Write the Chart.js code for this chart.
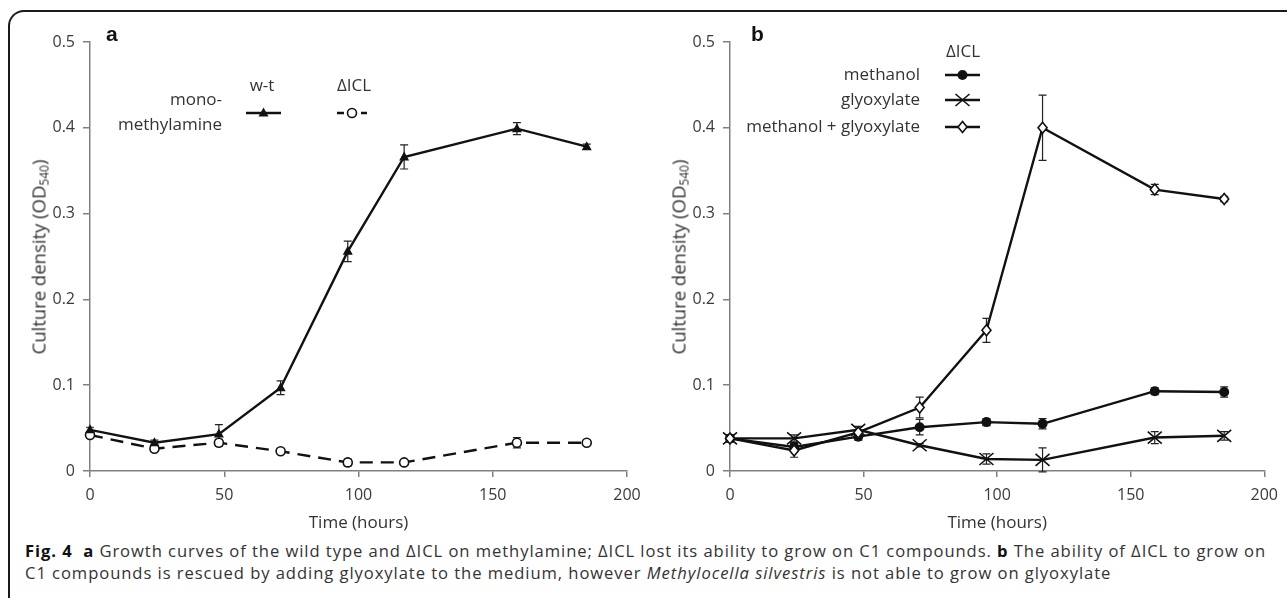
<!DOCTYPE html>
<html>
<head>
<meta charset="utf-8">
<script src="https://cdn.jsdelivr.net/npm/chart.js@4.4.1/dist/chart.umd.min.js"></script>
<style>
    body { margin: 0; background: #fff; width: 1287px; height: 598px; overflow: hidden; position: relative; font-family: "Open Sans", sans-serif; }
    .frame { position: absolute; left: 8px; top: 10px; width: 1400px; height: 600px; border-top: 2px solid #1a1a1a; border-left: 2px solid #1a1a1a; border-top-left-radius: 16px; border-bottom-left-radius: 14px; }
    .panel { position: absolute; top: 0; height: 535px; }
    .letter { position: absolute; top: 22px; font-family: "Liberation Sans", Arial, sans-serif; font-weight: bold; font-size: 21px; color: #111; }
    .ytitle { position: absolute; top: 257px; font-size: 18.5px; color: #333; white-space: nowrap; transform: translate(-50%, -50%) rotate(-90deg); }
    .ytitle sub { font-size: 12px; vertical-align: -3px; }
    .caption { position: absolute; left: 25px; top: 540px; font-family: "Open Sans", sans-serif; font-size: 16.6px; color: #333; line-height: 21.5px; white-space: nowrap; }
    .caption b { color: #111; }
</style>
</head>
<body>
<div class="frame"></div>
<div class="panel" style="left:0; width:660px;"><canvas id="chartA" width="660" height="535"></canvas></div>
<div class="panel" style="left:640px; width:647px;"><canvas id="chartB" width="647" height="535"></canvas></div>
<div class="letter" style="left:106px;">a</div>
<div class="letter" style="left:751px;">b</div>
<div class="ytitle" style="left:39px;">Culture density (OD<sub>540</sub>)</div>
<div class="ytitle" style="left:679px;">Culture density (OD<sub>540</sub>)</div>
<div class="caption" id="caption">
    <span id="capLine1"><b>Fig. 4</b>&nbsp; <b>a</b> Growth curves of the wild type and ΔICL on methylamine; ΔICL lost its ability to grow on C1 compounds. <b>b</b> The ability of ΔICL to grow on</span><br>
    <span>C1 compounds is rescued by adding glyoxylate to the medium, however <i>Methylocella silvestris</i> is not able to grow on glyoxylate</span>
</div>
<script>
// sampling times (hours)
const times = [0, 24, 48, 71, 96, 117, 159, 185];

// panel a: monomethylamine
const wtMono = [0.048, 0.033, 0.043, 0.097, 0.256, 0.366, 0.399, 0.378];
const wtMonoErr = [0.003, 0.003, 0.011, 0.008, 0.012, 0.014, 0.007, 0.003];
const iclMono = [0.042, 0.026, 0.033, 0.023, 0.010, 0.010, 0.033, 0.033];
const iclMonoErr = [0.003, 0.003, 0.004, 0.003, 0.004, 0.002, 0.006, 0.002];

// panel b: ΔICL on different substrates
const methanol = [0.038, 0.028, 0.040, 0.051, 0.057, 0.055, 0.093, 0.092];
const methanolErr = [0.004, 0.005, 0.004, 0.009, 0.004, 0.006, 0.004, 0.006];
const glyoxylate = [0.038, 0.038, 0.048, 0.030, 0.014, 0.013, 0.039, 0.041];
const glyoxylateErr = [0.004, 0.004, 0.004, 0.002, 0.006, 0.014, 0.007, 0.005];
const methGly = [0.038, 0.024, 0.045, 0.074, 0.164, 0.400, 0.328, 0.317];
const methGlyErr = [0.003, 0.008, 0.003, 0.012, 0.014, 0.038, 0.006, 0.003];

// axis ticks
const xTicks = [0, 50, 100, 150, 200];
const yTicks = [0, 0.1, 0.2, 0.3, 0.4, 0.5];

const axisColor = '#808080';
const tickTextColor = '#3a3a3a';

// stretch the caption a little so the first line spans the frame like the original
const capLine = document.getElementById('capLine1');
const capTarget = 1241;
const capChars = capLine.textContent.length;
document.getElementById('caption').style.letterSpacing = ((capTarget - capLine.getBoundingClientRect().width) / capChars).toFixed(3) + 'px';

function toPoints(ys) {
    return times.map((t, i) => ({ x: t, y: ys[i] }));
}

/**
 * Draw a marker at (x, y)
 */
function drawMarker(ctx, style, x, y) {
    ctx.save();
    ctx.strokeStyle = '#111';
    ctx.fillStyle = '#111';
    ctx.lineWidth = 1.6;
    ctx.beginPath();
    if (style === 'triangle') {
        ctx.moveTo(x, y - 5.5);
        ctx.lineTo(x + 5, y + 3.5);
        ctx.lineTo(x - 5, y + 3.5);
        ctx.closePath();
        ctx.fill();
    } else if (style === 'openCircle') {
        ctx.fillStyle = '#fff';
        ctx.arc(x, y, 4.5, 0, Math.PI * 2);
        ctx.fill();
        ctx.stroke();
    } else if (style === 'circle') {
        ctx.arc(x, y, 5, 0, Math.PI * 2);
        ctx.fill();
    } else if (style === 'cross') {
        ctx.moveTo(x - 7, y - 6);
        ctx.lineTo(x + 7, y + 6);
        ctx.moveTo(x + 7, y - 6);
        ctx.lineTo(x - 7, y + 6);
        ctx.stroke();
    } else if (style === 'diamond') {
        ctx.fillStyle = '#fff';
        ctx.moveTo(x, y - 5.5);
        ctx.lineTo(x + 4.5, y);
        ctx.lineTo(x, y + 5.5);
        ctx.lineTo(x - 4.5, y);
        ctx.closePath();
        ctx.fill();
        ctx.stroke();
    }
    ctx.restore();
}

// error bars drawn from each dataset's err array
const errorBarPlugin = {
    id: 'errorBars',
    afterDatasetsDraw(chart) {
        const ctx = chart.ctx;
        const xs = chart.scales.x;
        const ys = chart.scales.y;
        ctx.save();
        ctx.strokeStyle = '#222';
        ctx.lineWidth = 1.2;
        chart.data.datasets.forEach(ds => {
            ds.data.forEach((p, i) => {
                const e = ds.err[i];
                const px = xs.getPixelForValue(p.x);
                const top = ys.getPixelForValue(p.y + e);
                const bot = ys.getPixelForValue(p.y - e);
                ctx.beginPath();
                ctx.moveTo(px, top);
                ctx.lineTo(px, bot);
                ctx.moveTo(px - 4, top);
                ctx.lineTo(px + 4, top);
                ctx.moveTo(px - 4, bot);
                ctx.lineTo(px + 4, bot);
                ctx.stroke();
            });
        });
        ctx.restore();
    }
};

// markers drawn by hand so shapes match the original
const markerPlugin = {
    id: 'markers',
    afterDatasetsDraw(chart) {
        const xs = chart.scales.x;
        const ys = chart.scales.y;
        chart.data.datasets.forEach(ds => {
            ds.data.forEach(p => {
                drawMarker(chart.ctx, ds.marker, xs.getPixelForValue(p.x), ys.getPixelForValue(p.y));
            });
        });
    }
};

// legend drawn inside the chart canvas
const legendPlugin = {
    id: 'customLegend',
    afterDraw(chart) {
        const cfg = chart.options.plugins.customLegend;
        if (!cfg) return;
        const ctx = chart.ctx;
        ctx.save();
        ctx.font = '17px "Open Sans", sans-serif';
        ctx.fillStyle = '#333';
        ctx.textBaseline = 'middle';
        cfg.texts.forEach(t => {
            ctx.textAlign = t.align;
            ctx.fillText(t.text, t.x, t.y);
        });
        cfg.samples.forEach(s => {
            ctx.save();
            ctx.strokeStyle = '#111';
            ctx.lineWidth = 2.6;
            ctx.setLineDash(s.dash || []);
            ctx.beginPath();
            ctx.moveTo(s.x1, s.y);
            ctx.lineTo(s.x2, s.y);
            ctx.stroke();
            ctx.restore();
            drawMarker(ctx, s.marker, (s.x1 + s.x2) / 2, s.y);
        });
        ctx.restore();
    }
};

function makeScales() {
    return {
        x: {
            type: 'linear',
            min: 0,
            max: 200,
            afterBuildTicks: axis => { axis.ticks = xTicks.map(v => ({ value: v })); },
            afterFit: axis => { axis.height = 64; },
            border: { display: true, color: axisColor, width: 1.5 },
            grid: { display: true, drawOnChartArea: false, drawTicks: true, tickLength: 6, color: axisColor, lineWidth: 1.5 },
            ticks: { color: tickTextColor, font: { family: 'Open Sans', size: 16 }, padding: 9, maxRotation: 0 },
            title: { display: true, text: 'Time (hours)', color: '#333', font: { family: 'Open Sans', size: 17 }, padding: { top: 2, bottom: 2 } }
        },
        y: {
            min: 0,
            max: 0.5,
            afterBuildTicks: axis => { axis.ticks = yTicks.map(v => ({ value: v })); },
            afterFit: axis => { axis.width = 90; },
            border: { display: true, color: axisColor, width: 1.5 },
            grid: { display: true, drawOnChartArea: false, drawTicks: true, tickLength: 7, color: axisColor, lineWidth: 1.5 },
            ticks: { color: tickTextColor, font: { family: 'Open Sans', size: 16 }, padding: 8, callback: v => (v === 0 ? '0' : v.toFixed(1)) }
        }
    };
}

function lineDataset(label, ys, err, marker, dash) {
    return {
        label: label,
        data: toPoints(ys),
        err: err,
        marker: marker,
        showLine: true,
        borderColor: '#111',
        borderWidth: 2.4,
        borderDash: dash || [],
        pointRadius: 0,
        tension: 0
    };
}

new Chart(document.getElementById('chartA'), {
    type: 'scatter',
    data: {
        datasets: [
            lineDataset('ΔICL', iclMono, iclMonoErr, 'openCircle', [13, 8]),
            lineDataset('w-t', wtMono, wtMonoErr, 'triangle')
        ]
    },
    options: {
        responsive: false,
        animation: false,
        layout: { padding: { top: 42, right: 33, bottom: 0, left: 0 } },
        scales: makeScales(),
        plugins: {
            legend: { display: false },
            tooltip: { enabled: false },
            customLegend: {
                texts: [
                    { text: 'w-t', x: 262, y: 86, align: 'center' },
                    { text: 'ΔICL', x: 354, y: 86, align: 'center' },
                    { text: 'mono-', x: 222, y: 100, align: 'right' },
                    { text: 'methylamine', x: 222, y: 125, align: 'right' }
                ],
                samples: [
                    { x1: 246, x2: 281, y: 113, marker: 'triangle' },
                    { x1: 337, x2: 367, y: 113, marker: 'openCircle', dash: [7, 5] }
                ]
            }
        }
    },
    plugins: [errorBarPlugin, markerPlugin, legendPlugin]
});

new Chart(document.getElementById('chartB'), {
    type: 'scatter',
    data: {
        datasets: [
            lineDataset('methanol', methanol, methanolErr, 'circle'),
            lineDataset('glyoxylate', glyoxylate, glyoxylateErr, 'cross'),
            lineDataset('methanol + glyoxylate', methGly, methGlyErr, 'diamond')
        ]
    },
    options: {
        responsive: false,
        animation: false,
        layout: { padding: { top: 42, right: 20, bottom: 0, left: 0 } },
        scales: makeScales(),
        plugins: {
            legend: { display: false },
            tooltip: { enabled: false },
            customLegend: {
                texts: [
                    { text: 'ΔICL', x: 323, y: 52, align: 'center' },
                    { text: 'methanol', x: 280, y: 75, align: 'right' },
                    { text: 'glyoxylate', x: 280, y: 100, align: 'right' },
                    { text: 'methanol + glyoxylate', x: 280, y: 127, align: 'right' }
                ],
                samples: [
                    { x1: 305, x2: 340, y: 75, marker: 'circle' },
                    { x1: 305, x2: 340, y: 100, marker: 'cross' },
                    { x1: 305, x2: 340, y: 127, marker: 'diamond' }
                ]
            }
        }
    },
    plugins: [errorBarPlugin, markerPlugin, legendPlugin]
});
</script>
</body>
</html>
